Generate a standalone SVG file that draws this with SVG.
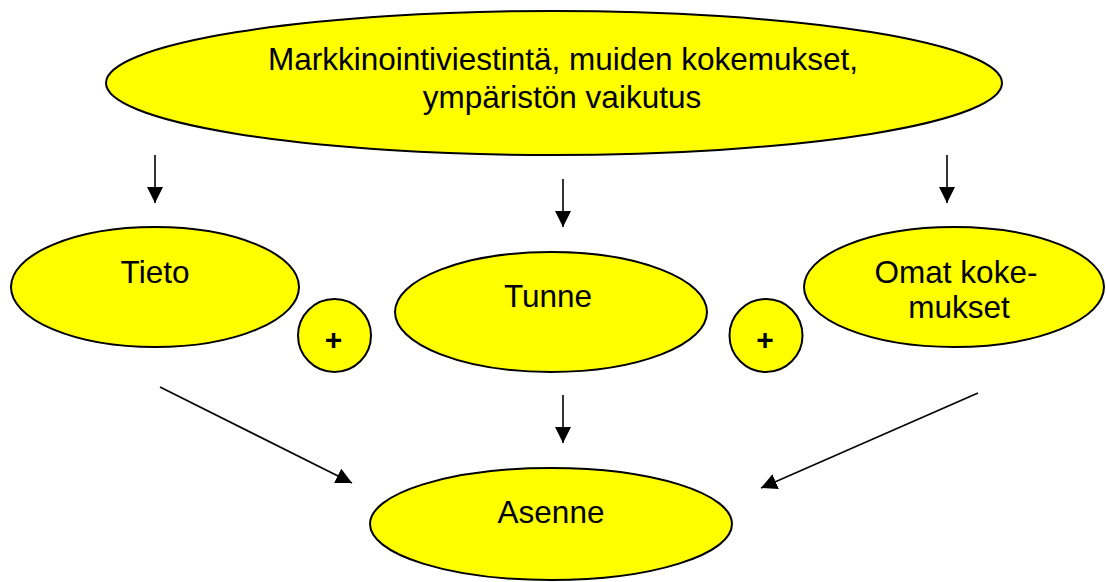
<svg xmlns="http://www.w3.org/2000/svg" width="1106" height="582" viewBox="0 0 1106 582">
<style>
.node{fill:#ffff00;stroke:#000;stroke-width:2}
.t{font-family:"Liberation Sans",Arial,sans-serif;font-size:31.5px;fill:#000;text-anchor:middle}
.p{font-family:"Liberation Sans",Arial,sans-serif;font-size:30px;font-weight:bold;fill:#000;text-anchor:middle}
.c{stroke:#000;stroke-width:1.6;fill:none;marker-end:url(#ah)}
</style>
<defs>
<marker id="ah" markerUnits="userSpaceOnUse" markerWidth="16" markerHeight="16" refX="15" refY="7.5" orient="auto" viewBox="0 0 15 15">
<path d="M0,0 L15,7.5 L0,15 z" fill="#000"/>
</marker>
</defs>
<rect width="1106" height="582" fill="#fff"/>
<g id="connectors">
<line class="c" x1="155" y1="155" x2="155" y2="203"/>
<line class="c" x1="563" y1="179" x2="563" y2="227"/>
<line class="c" x1="947" y1="155" x2="947" y2="203"/>
<line class="c" x1="160" y1="387" x2="352" y2="483"/>
<line class="c" x1="563" y1="395" x2="563" y2="443"/>
<line class="c" x1="978" y1="393" x2="761" y2="488"/>
</g>
<g id="top">
<ellipse class="node" cx="554" cy="83" rx="448" ry="72"/>
<text class="t" x="563" y="70">Markkinointiviestintä, muiden kokemukset,</text>
<text class="t" x="562" y="108">ympäristön vaikutus</text>
</g>
<g id="tieto">
<ellipse class="node" cx="155" cy="287" rx="144" ry="60"/>
<text class="t" x="155" y="283">Tieto</text>
</g>
<g id="plus1">
<circle class="node" cx="334.5" cy="335.5" r="36.5"/>
<text class="p" x="333.5" y="350">+</text>
</g>
<g id="tunne">
<ellipse class="node" cx="551" cy="312" rx="156" ry="60"/>
<text class="t" x="548" y="307">Tunne</text>
</g>
<g id="plus2">
<circle class="node" cx="766" cy="335.5" r="36.5"/>
<text class="p" x="765" y="350">+</text>
</g>
<g id="omat">
<ellipse class="node" cx="954" cy="287" rx="150" ry="60"/>
<text class="t" x="956" y="283">Omat koke-</text>
<text class="t" x="959" y="318">mukset</text>
</g>
<g id="asenne">
<ellipse class="node" cx="551" cy="524" rx="181" ry="56"/>
<text class="t" x="551" y="523">Asenne</text>
</g>
</svg>
